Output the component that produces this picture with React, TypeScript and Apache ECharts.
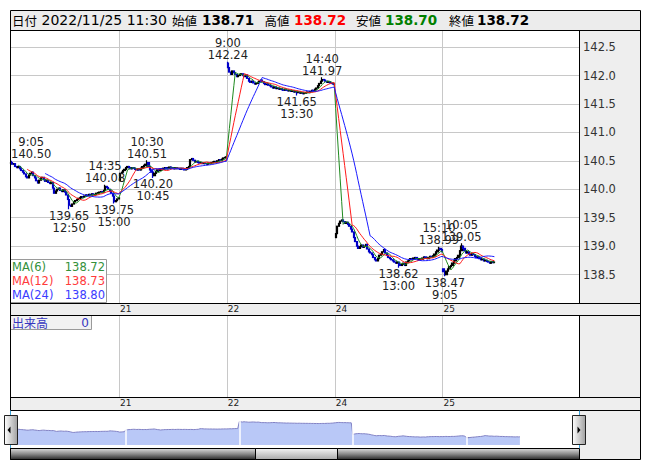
import React, { useEffect, useRef } from "react";
import * as echarts from "echarts";

// ---------- data ----------
const dayLabels = ["18", "21", "22", "24", "25"];
const mainDaySlots = [73, 72, 72, 72, 91];
const navDaySlots = [73, 72, 72, 72, 72];
const dayOpens = [140.45, 140.15, 142.22, 139.15, 138.6];

const close18 = [
  140.47, 140.44, 140.45, 140.4, 140.38, 140.4, 140.36, 140.33, 140.3, 140.27,
  140.22, 140.2, 140.25, 140.28, 140.3, 140.24, 140.2, 140.15, 140.11, 140.16,
  140.2, 140.21, 140.17, 140.14, 140.15, 140.12, 140.1, 140.12, 140.02, 139.93,
  139.97, 140.0, 140.02, 139.98, 139.96, 139.99, 139.95, 139.9, 139.82, 139.72,
  139.7, 139.74, 139.78, 139.8, 139.82, 139.84, 139.85, 139.87, 139.86, 139.88,
  139.9, 139.89, 139.91, 139.9, 139.92, 139.9, 139.91, 139.93, 139.94, 139.95,
  139.96, 139.95, 139.98, 140.05, 140.03, 140.0, 139.97, 139.93, 139.88, 139.78,
  139.8, 139.83, 139.85,
];
const close21 = [
  140.28, 140.3, 140.33, 140.35, 140.38, 140.4, 140.38, 140.36, 140.38, 140.37,
  140.35, 140.34, 140.36, 140.34, 140.37, 140.4, 140.42, 140.44, 140.47, 140.4,
  140.34, 140.3, 140.24, 140.28, 140.31, 140.34, 140.33, 140.36, 140.35, 140.37,
  140.38, 140.36, 140.37, 140.39, 140.38, 140.37, 140.36, 140.38, 140.37, 140.36,
  140.35, 140.37, 140.36, 140.34, 140.35, 140.38, 140.4, 140.52, 140.54, 140.51,
  140.48, 140.49, 140.47, 140.46, 140.47, 140.45, 140.46, 140.45, 140.44, 140.46,
  140.45, 140.47, 140.48, 140.49, 140.48, 140.5, 140.52, 140.51, 140.53, 140.55,
  140.56, 140.57,
];
const close22 = [
  142.14, 142.06, 142.02, 142.08, 142.05, 142.02, 141.98, 142.0, 142.02, 142.03,
  142.0, 141.98, 142.01, 141.95, 141.9, 141.88, 141.9, 141.87, 141.85, 141.86,
  141.88, 141.9, 141.92, 141.89, 141.86, 141.84, 141.85, 141.83, 141.82, 141.8,
  141.78, 141.8, 141.77, 141.78, 141.76, 141.77, 141.75, 141.74, 141.76, 141.74,
  141.73, 141.74, 141.72, 141.73, 141.71, 141.72, 141.7, 141.71, 141.69, 141.7,
  141.68, 141.69, 141.7, 141.71, 141.7, 141.72, 141.74, 141.73, 141.76, 141.78,
  141.82, 141.86, 141.9, 141.93, 141.92, 141.9, 141.88, 141.89, 141.87, 141.86,
  141.85, 141.84,
];
const close24 = [
  139.22, 139.35, 139.4, 139.44, 139.46, 139.43, 139.4, 139.42, 139.38, 139.35,
  139.3, 139.25, 139.15, 139.08, 139.0, 138.96, 138.99, 139.02, 138.98, 139.0,
  139.03, 138.95, 138.9, 138.88, 138.85, 138.8, 138.76, 138.74, 138.78, 138.84,
  138.86, 138.9, 138.94, 138.88, 138.84, 138.8, 138.78, 138.76, 138.74, 138.72,
  138.7, 138.72, 138.68, 138.66, 138.68, 138.7, 138.66, 138.72, 138.74, 138.76,
  138.78, 138.77, 138.79, 138.8, 138.78, 138.76, 138.78, 138.77, 138.79, 138.81,
  138.8, 138.78, 138.8, 138.82, 138.81, 138.83, 138.86, 138.9, 138.93, 138.96,
  138.94, 138.9,
];
const close25 = [
  138.55, 138.5, 138.56, 138.6, 138.64, 138.66, 138.7, 138.74, 138.78, 138.8,
  138.84, 138.92, 139.0, 138.96, 138.92, 138.88, 138.9, 138.86, 138.84, 138.87,
  138.85, 138.82, 138.8, 138.81, 138.78, 138.76, 138.77, 138.74, 138.75, 138.73,
  138.72, 138.7, 138.73, 138.71, 138.72,
];

const annotations = [
  { day: 0, bar: 1, price: 140.5, time: "9:05", side: "high", dx: 19 },
  { day: 0, bar: 39, price: 139.65, time: "12:50", side: "low", dx: 0 },
  { day: 0, bar: 63, price: 140.08, time: "14:35", side: "high", dx: 0 },
  { day: 0, bar: 69, price: 139.75, time: "15:00", side: "low", dx: 0 },
  { day: 1, bar: 18, price: 140.51, time: "10:30", side: "high", dx: 0 },
  { day: 1, bar: 22, price: 140.2, time: "10:45", side: "low", dx: 0 },
  { day: 2, bar: 0, price: 142.24, time: "9:00", side: "high", dx: 0 },
  { day: 2, bar: 46, price: 141.65, time: "13:30", side: "low", dx: 0 },
  { day: 2, bar: 63, price: 141.97, time: "14:40", side: "high", dx: 0 },
  { day: 3, bar: 42, price: 138.62, time: "13:00", side: "low", dx: 0 },
  { day: 3, bar: 69, price: 138.99, time: "15:10", side: "high", dx: 0 },
  { day: 4, bar: 1, price: 138.47, time: "9:05", side: "low", dx: 0 },
  { day: 4, bar: 12, price: 139.05, time: "10:05", side: "high", dx: 0 },
];

const maPeriods = [6, 12, 24];
const maNames = ["MA(6)", "MA(12)", "MA(24)"];
const maLegendValues = ["138.72", "138.73", "138.80"];
const volumeLabel = "出来高";
const volumeValue = "0";

const headerDate = "2022/11/25 11:30";
const headerFields = ["始値", "高値", "安値", "終値"];
const headerPrices = ["138.71", "138.72", "138.70", "138.72"];

// ---------- derived ----------
const dayCloses = [close18, close21, close22, close24, close25];
const FONT = "DejaVu Sans, Noto Sans CJK JP, sans-serif";
const CJK = "Noto Sans CJK JP, sans-serif";

function starts(slots: number[]) {
  const s: number[] = [];
  let acc = 0;
  slots.forEach((n) => {
    s.push(acc);
    acc += n;
  });
  return s;
}
const mainStarts = starts(mainDaySlots);
const navStarts = starts(navDaySlots);

function cats(slots: number[]) {
  const c: string[] = [];
  slots.forEach((n, d) => {
    for (let i = 0; i < n; i++) c.push(dayLabels[d] + "|" + i);
  });
  return c;
}
const mainCats = cats(mainDaySlots);
const navCats = cats(navDaySlots);

const allCloses: number[] = [];
const candles: number[][] = [];
dayCloses.forEach((arr, d) => {
  arr.forEach((c, i) => {
    const o = i === 0 ? dayOpens[d] : arr[i - 1];
    candles.push([o, c, Math.min(o, c), Math.max(o, c)]);
    allCloses.push(c);
  });
});
annotations.forEach((a) => {
  const idx = mainStarts[a.day] + a.bar;
  const k = candles[idx];
  if (a.side === "high") k[3] = Math.max(k[3], a.price);
  else k[2] = Math.min(k[2], a.price);
});

function movingAverage(n: number) {
  return allCloses.map((_, i) => {
    if (i < n - 1) return "-";
    let s = 0;
    for (let j = i - n + 1; j <= i; j++) s += allCloses[j];
    return +(s / n).toFixed(4);
  });
}

const maColors = ["#1f8a1f", "#ff1a1a", "#1a1aff"];
const maTextColors = ["#33913a", "#ff3b3b", "#3b3bff"];

export default function App() {
  const ref = useRef<HTMLDivElement>(null);
  useEffect(() => {
    const chart = echarts.init(ref.current!, null, { renderer: "svg" });
    const mainStartSet = new Set(mainStarts.slice(1));
    const navStartSet = new Set(navStarts.slice(1));

    const xBase = (gridIndex: number) => ({
      type: "category",
      gridIndex,
      data: mainCats,
      boundaryGap: true,
      axisLine: { show: false },
      axisTick: { show: false },
      axisLabel: {
        interval: (i: number) => mainStartSet.has(i),
        formatter: (v: string) => v.split("|")[0],
        align: "left",
        fontSize: 9,
        fontFamily: FONT,
        color: "#222",
        margin: 1,
      },
      splitLine: {
        show: true,
        interval: (i: number) => mainStartSet.has(i),
        lineStyle: { color: "#c8c8c8", width: 1 },
      },
    });

    const blk = (x1: number, y1: number, x2: number, y2: number, color = "#000") => ({
      type: "line",
      silent: true,
      z: 100,
      shape: { x1, y1, x2, y2 },
      style: { stroke: color, lineWidth: 1 },
    });
    const txt = (x: number, y: number, text: string, fill: string, size: number, weight = "normal", align = "left", family = FONT) => ({
      type: "text",
      silent: true,
      z: 101,
      x,
      y,
      style: { text, fill, fontSize: size, fontFamily: family, fontWeight: weight, align, verticalAlign: "middle" },
    });

    const headerX = [172, 264.5, 356, 449];
    const priceX = [202, 294, 385, 477];
    const priceColors = ["#000", "#ff0000", "#008000", "#000"];

    const graphics: any[] = [
      { type: "rect", silent: true, z: -1, shape: { x: 10, y: 10, width: 630, height: 20 }, style: { fill: "#ececec" } },
      { type: "rect", silent: true, z: -1, shape: { x: 579, y: 30, width: 61, height: 429 }, style: { fill: "#eeeeee" } },
      { type: "rect", silent: true, z: -1, shape: { x: 10, y: 303, width: 630, height: 12 }, style: { fill: "#eeeeee" } },
      { type: "rect", silent: true, z: -1, shape: { x: 10, y: 397, width: 630, height: 13 }, style: { fill: "#eeeeee" } },
      // borders
      { type: "rect", silent: true, z: 100, shape: { x: 10.5, y: 10.5, width: 630, height: 449 }, style: { fill: "none", stroke: "#000", lineWidth: 1 } },
      blk(10.5, 30.5, 640.5, 30.5),
      blk(10.5, 303.5, 640.5, 303.5),
      blk(10.5, 315.5, 640.5, 315.5),
      blk(10.5, 397.5, 640.5, 397.5),
      blk(10.5, 410.5, 640.5, 410.5),
      blk(579.5, 30.5, 579.5, 303.5),
      blk(579.5, 315.5, 579.5, 397.5),
      blk(10.5, 410.5, 10.5, 448, "#3aa0d8"),
      blk(579.5, 410.5, 579.5, 448, "#3aa0d8"),
      // scrollbar
      {
        type: "rect", silent: true, z: 100,
        shape: { x: 10.5, y: 448.5, width: 569, height: 11 },
        style: {
          fill: new echarts.graphic.LinearGradient(0, 0, 0, 1, [
            { offset: 0, color: "#dcdcdc" },
            { offset: 0.5, color: "#8a8a8a" },
            { offset: 1, color: "#2a2a2a" },
          ]),
          stroke: "#000", lineWidth: 1,
        },
      },
      {
        type: "rect", silent: true, z: 101,
        shape: { x: 255.5, y: 448.5, width: 82, height: 11 },
        style: {
          fill: new echarts.graphic.LinearGradient(0, 0, 0, 1, [
            { offset: 0, color: "#f4f4f4" },
            { offset: 1, color: "#a8a8a8" },
          ]),
          stroke: "#000", lineWidth: 1,
        },
      },
      // handles
      {
        type: "rect", silent: true, z: 101,
        shape: { x: 4.5, y: 415.5, width: 13, height: 29 },
        style: {
          fill: new echarts.graphic.LinearGradient(0, 0, 1, 0, [
            { offset: 0, color: "#ffffff" },
            { offset: 1, color: "#a0a0a0" },
          ]),
          stroke: "#222", lineWidth: 1,
        },
      },
      { type: "polygon", silent: true, z: 102, shape: { points: [[7.5, 430], [10.5, 426.5], [10.5, 433.5]] }, style: { fill: "#000" } },
      {
        type: "rect", silent: true, z: 101,
        shape: { x: 572.5, y: 415.5, width: 13, height: 29 },
        style: {
          fill: new echarts.graphic.LinearGradient(0, 0, 1, 0, [
            { offset: 0, color: "#ffffff" },
            { offset: 1, color: "#a0a0a0" },
          ]),
          stroke: "#222", lineWidth: 1,
        },
      },
      { type: "polygon", silent: true, z: 102, shape: { points: [[580.5, 430], [577.5, 426.5], [577.5, 433.5]] }, style: { fill: "#000" } },
      // MA legend box
      { type: "rect", silent: true, z: 90, shape: { x: 10.5, y: 259.5, width: 96, height: 43 }, style: { fill: "#fff", stroke: "#9a9a9a", lineWidth: 1 } },
      // volume legend box
      { type: "rect", silent: true, z: 90, shape: { x: 10.5, y: 315.5, width: 81, height: 14 }, style: { fill: "#f2f2f2", stroke: "#9a9a9a", lineWidth: 1 } },
      txt(12, 322.5, volumeLabel, "#3636c0", 12, "normal", "left", CJK),
      txt(89, 322.5, volumeValue, "#3636c0", 12, "normal", "right"),
      // header
      txt(12, 20, "日付", "#000", 12.5, "normal", "left", CJK),
      txt(41.5, 20, headerDate, "#000", 14),
    ];
    headerFields.forEach((f, i) => {
      graphics.push(txt(headerX[i], 20, f, "#000", 12.5, "normal", "left", CJK));
      graphics.push(txt(priceX[i], 20, headerPrices[i], priceColors[i], 13.5, "bold"));
    });
    maNames.forEach((n, i) => {
      graphics.push(txt(12, 266.7 + i * 14, n, maTextColors[i], 11.5));
      graphics.push(txt(105, 266.7 + i * 14, maLegendValues[i], maTextColors[i], 11.5, "normal", "right"));
    });

    const option: any = {
      animation: false,
      backgroundColor: "#ffffff",
      grid: [
        { left: 10, top: 30, width: 569, height: 273 },
        { left: 10, top: 315, width: 569, height: 82 },
        { left: 10, top: 410, width: 569, height: 35 },
      ],
      xAxis: [
        xBase(0),
        xBase(1),
        {
          type: "category",
          gridIndex: 2,
          data: navCats,
          boundaryGap: true,
          axisLine: { show: false },
          axisTick: { show: false },
          splitLine: { show: false },
          axisLabel: {
            inside: true,
            interval: (i: number) => navStartSet.has(i),
            formatter: (v: string) => v.split("|")[0],
            align: "left",
            fontSize: 9,
            fontFamily: FONT,
            color: "#222",
            margin: 0,
          },
        },
      ],
      yAxis: [
        {
          type: "value",
          gridIndex: 0,
          position: "right",
          min: 138,
          max: 142.8,
          interval: 0.5,
          axisLine: { show: false },
          axisTick: { show: false },
          axisLabel: {
            formatter: (v: number) => v.toFixed(1),
            fontSize: 11.5,
            fontFamily: FONT,
            color: "#333",
            margin: 4,
            showMinLabel: false,
            showMaxLabel: false,
          },
          splitLine: { lineStyle: { color: "#c8c8c8", width: 1 } },
        },
        { type: "value", gridIndex: 1, min: 0, max: 1, show: false },
        { type: "value", gridIndex: 2, min: 136.9, max: 144.7, show: false },
      ],
      series: [
        {
          type: "candlestick",
          xAxisIndex: 0,
          yAxisIndex: 0,
          data: candles,
          barWidth: 1.6,
          z: 2,
          itemStyle: {
            color: "#000000",
            color0: "#0000c8",
            borderColor: "#000000",
            borderColor0: "#0000c8",
            borderWidth: 1.2,
          },
          markPoint: {
            symbol: "circle",
            symbolSize: 1,
            silent: true,
            itemStyle: { color: "rgba(0,0,0,0)" },
            data: annotations.map((a) => ({
              coord: [mainStarts[a.day] + a.bar, a.price],
              label: {
                show: true,
                position: a.side === "high" ? "top" : "bottom",
                distance: 0,
                offset: [a.dx, 0],
                formatter:
                  a.side === "high"
                    ? a.time + "\n" + a.price.toFixed(2)
                    : a.price.toFixed(2) + "\n" + a.time,
                color: "#222",
                fontSize: 11.5,
                lineHeight: 12,
                fontFamily: FONT,
              },
            })),
          },
        },
        ...maPeriods.map((p, i) => ({
          type: "line",
          xAxisIndex: 0,
          yAxisIndex: 0,
          data: movingAverage(p),
          showSymbol: false,
          symbol: "none",
          lineStyle: { color: maColors[i], width: 1 },
          silent: true,
          z: 4,
        })),
        {
          type: "line",
          xAxisIndex: 2,
          yAxisIndex: 2,
          data: allCloses,
          showSymbol: false,
          symbol: "none",
          lineStyle: { color: "#8282c4", width: 1 },
          areaStyle: { color: "#b9c8f7", opacity: 1, origin: "start" },
          silent: true,
          markLine: {
            silent: true,
            symbol: ["none", "none"],
            label: { show: false },
            lineStyle: { color: "#ffffff", width: 1.5, type: "solid" },
            data: navStarts.slice(1).map((s) => ({ xAxis: s })),
          },
        },
      ],
      graphic: { elements: graphics },
    };
    chart.setOption(option);
    return () => chart.dispose();
  }, []);
  return (
    <div
      ref={ref}
      style={{ position: "absolute", left: 0, top: 0, width: 653, height: 470 }}
    />
  );
}
